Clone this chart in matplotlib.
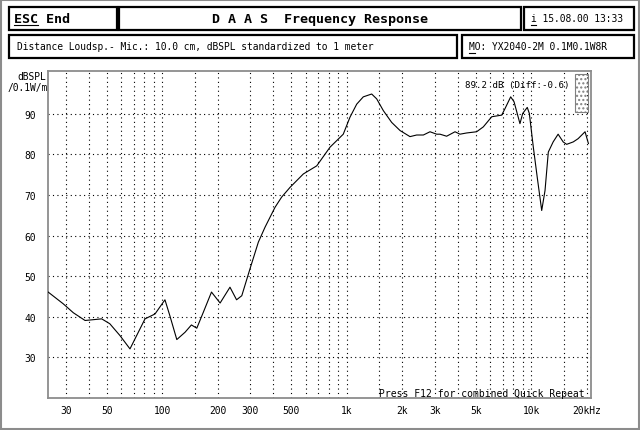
import numpy as np
import matplotlib
matplotlib.use('Agg')
import matplotlib.pyplot as plt
from matplotlib.patches import Rectangle

plt.rcParams['font.family'] = 'DejaVu Sans Mono'

# Frequency response (Hz, dBSPL)
freq = [24.1, 29.1, 33, 38.2, 47, 52, 59, 66.9, 80.7, 91.4, 103.5, 110, 120,
        133, 144, 154, 167, 185, 206, 233, 253, 270, 299, 332, 361, 409, 444,
        493, 582, 688, 812, 958, 1042, 1133, 1230, 1366, 1454, 1580, 1753,
        1946, 2203, 2394, 2603, 2828, 3073, 3205, 3480, 3865, 4110, 4465,
        5060, 5500, 6110, 6920, 7210, 7740, 8070, 8690, 8990, 9520, 9770,
        10260, 10780, 11400, 11880, 12380, 13150, 13990, 14900, 15560, 16900,
        17960, 19580, 20420]
spl = [46.1, 43.2, 41.0, 39.1, 39.5, 38.3, 35.4, 32.1, 39.5, 40.7, 44.2, 40.3,
       34.4, 36.2, 38.0, 37.2, 41.1, 46.1, 43.4, 47.3, 44.2, 45.2, 51.8, 58.4,
       62.1, 67.0, 69.5, 71.9, 75.2, 77.2, 81.8, 85.0, 89.2, 92.4, 94.2, 94.9,
       93.7, 90.8, 87.9, 85.9, 84.4, 84.8, 84.8, 85.6, 85.0, 85.0, 84.5, 85.6,
       85.0, 85.3, 85.6, 86.8, 89.3, 89.7, 91.3, 94.2, 93.0, 87.6, 90.1, 91.6,
       90.1, 81.9, 74.4, 66.2, 71.1, 80.6, 83.1, 85.0, 83.1, 82.5, 83.1, 83.9,
       85.6, 82.7]

xtick_vals = [30, 50, 100, 200, 300, 500, 1000, 2000, 3000, 5000, 10000, 20000]
xtick_labels = ['30', '50', '100', '200', '300', '500', '1k', '2k', '3k', '5k', '10k', '20kHz']
xgrid = [30, 40, 50, 60, 70, 80, 90, 100, 150, 200, 300, 400, 500, 600, 700,
         800, 900, 1000, 1500, 2000, 3000, 4000, 5000, 6000, 7000, 8000, 9000,
         10000, 15000, 20000]
ytick_vals = [30, 40, 50, 60, 70, 80, 90]

W, H = 640, 431
fig = plt.figure(figsize=(W / 100, H / 100), dpi=100)

# overlay in pixel coordinates for the frame and header boxes
bg = fig.add_axes([0, 0, 1, 1])
bg.set_xlim(0, W)
bg.set_ylim(H, 0)
bg.axis('off')

bg.add_patch(Rectangle((1, 1), W - 2, H - 2, fill=False, ec='0.55', lw=1.5))
boxes = [(9, 8, 108, 23), (119, 8, 402, 23), (524, 8, 110, 23),
         (9, 36, 448, 23), (462, 36, 172, 23)]
for x, y, w, h in boxes:
    bg.add_patch(Rectangle((x, y), w, h, fill=False, ec='black', lw=1.6))

bg.text(14, 19.5, 'ESC End', fontsize=9.6, fontweight='bold', va='center')
bg.plot([14, 38], [26, 26], color='black', lw=0.8)
bg.text(320, 19.5, 'D A A S  Frequency Response', fontsize=9.6,
        fontweight='bold', va='center', ha='center')
bg.text(531, 19.5, 'i 15.08.00 13:33', fontsize=6.9, va='center')
bg.plot([531, 536], [26, 26], color='black', lw=0.8)
bg.text(17, 47.5, 'Distance Loudsp.- Mic.: 10.0 cm, dBSPL standardized to 1 meter',
        fontsize=6.9, va='center')
bg.text(469, 47.5, 'MO: YX2040-2M 0.1M0.1W8R', fontsize=6.9, va='center')
bg.plot([469, 475], [54, 54], color='black', lw=0.8)
bg.text(46, 77.5, 'dBSPL', fontsize=6.9, va='center', ha='right')
bg.text(48, 88.5, '/0.1W/m', fontsize=6.9, va='center', ha='right')

# main plot
ax = fig.add_axes([48.3 / W, 1 - 399 / H, (590.7 - 48.3) / W, (399 - 72) / H])
ax.set_xscale('log')
ax.set_xlim(24.14, 21010)
ax.set_ylim(20.0, 100.57)
for f in xgrid:
    ax.axvline(f, color='black', lw=0.8, ls=(0, (1, 3)), zorder=1)
for v in ytick_vals:
    ax.axhline(v, color='black', lw=0.8, ls=(0, (1, 3)), zorder=1)
ax.plot(freq, spl, color='black', lw=0.8, zorder=3)

ax.set_xticks(xtick_vals)
ax.set_xticklabels(xtick_labels, fontsize=6.9)
ax.xaxis.set_minor_locator(matplotlib.ticker.NullLocator())
ax.set_yticks(ytick_vals)
ax.set_yticklabels([str(v) for v in ytick_vals], fontsize=6.9)
ax.tick_params(length=0, pad=5)
ax.tick_params(axis='y', pad=9)
for s in ax.spines.values():
    s.set_color('0.55')
    s.set_linewidth(1.3)

ax.text(465, 85.5, '89.2 dB (Diff:-0.6)', fontsize=6.6, va='center',
        transform=bg.transData, zorder=4)
ax.text(585, 394, 'Press F12 for combined Quick Repeat', fontsize=7.0,
        va='center', ha='right', transform=bg.transData, zorder=4)
ax.add_patch(Rectangle((575, 75), 13, 38, fill=False, ec='0.5', lw=0.8,
                       hatch='....', transform=bg.transData, zorder=4))

fig.savefig('out.png', dpi=100)
